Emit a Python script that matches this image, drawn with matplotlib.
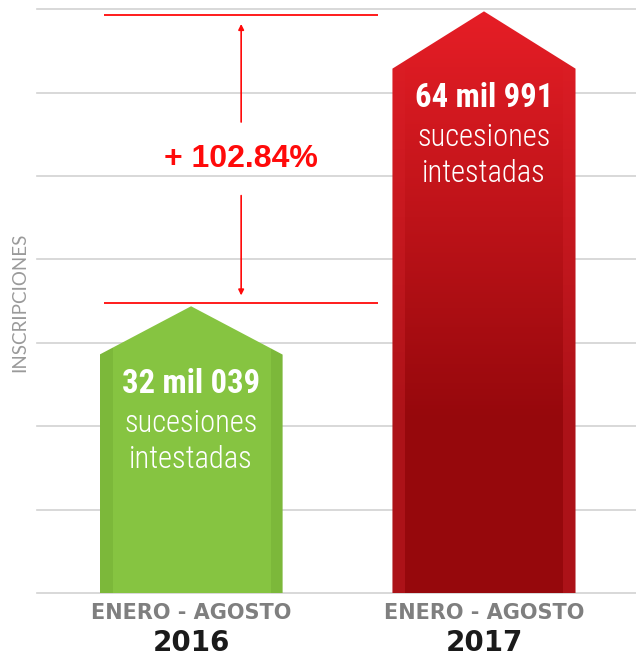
import numpy as np
import matplotlib
matplotlib.use("Agg")
import matplotlib.pyplot as plt
from matplotlib.patches import Polygon

# data
periods = ["ENERO - AGOSTO", "ENERO - AGOSTO"]
years = ["2016", "2017"]
values = [32039, 64991]
subtitle = ["sucesiones", "intestadas"]
ylabel = "INSCRIPCIONES"

GRID_STEP = 9320
N_GRID = 7
YMAX = 66260
HEADS = [5400, 6400]   # height of the arrow tip per bar, data units
BAR_W = 0.625
EDGE_W = 0.043         # side strip width, data units

COND = ['Roboto Condensed', 'Liberation Sans Narrow', 'DejaVu Sans']

def fmt(v):
    return "%d mil %03d" % (v // 1000, v % 1000)

def pct(a, b):
    p = np.floor((b - a) / a * 10000) / 100
    return "+ %.2f%%" % p

fig = plt.figure(figsize=(6.36, 6.57), dpi=100)
ax = fig.add_axes([37/636, 64/657, 599/636, 593/657])
ax.set_xlim(-0.526, 1.519)
ax.set_ylim(0, YMAX)
ax.axis('off')

for k in range(N_GRID + 1):
    ax.axhline(k * GRID_STEP, color='#d2d2d2', lw=1.2, zorder=1, clip_on=False)


def bar_image(ax, x, v, head, top_inner, bot_inner, top_edge, bot_edge, dark_at):
    x0, x1 = x - BAR_W/2, x + BAR_W/2
    ny, nx = 300, 300
    ys = np.linspace(v, 0, ny)
    t = np.clip((v - ys) / (v - dark_at), 0, 1)[:, None]
    xs = np.linspace(x0, x1, nx)
    edge = ((xs < x0 + EDGE_W) | (xs > x1 - EDGE_W))[None, :]
    ti, bi = np.array(top_inner)/255, np.array(bot_inner)/255
    te, be = np.array(top_edge)/255, np.array(bot_edge)/255
    inner = ti + (bi - ti) * t[..., None]
    edg = te + (be - te) * t[..., None]
    img = np.where(edge[..., None], edg, inner)
    poly = Polygon([(x0, 0), (x0, v - head), (x, v), (x1, v - head), (x1, 0)],
                   closed=True, facecolor='none', edgecolor='none')
    ax.add_patch(poly)
    im = ax.imshow(img, extent=[x0, x1, 0, v], aspect='auto', zorder=3,
                   interpolation='nearest')
    im.set_clip_path(poly)


bar_image(ax, 0, values[0], HEADS[0], (134, 196, 65), (134, 196, 65),
          (124, 184, 58), (124, 184, 58), values[0] * 0.5)
bar_image(ax, 1, values[1], HEADS[1], (230, 30, 38), (150, 8, 12),
          (226, 30, 38), (172, 18, 24), 19300)

# texts inside the bars
for i, v in enumerate(values):
    sh = v - HEADS[i]
    ax.annotate(fmt(v), (i, sh), xytext=(0, -29), textcoords='offset pixels',
                ha='center', va='center', color='white', fontsize=23.5,
                fontweight='bold', family=COND, zorder=5)
    ax.annotate(subtitle[0], (i, sh), xytext=(0, -69), textcoords='offset pixels',
                ha='center', va='center', color='white', fontsize=22,
                fontweight='light', family=COND, zorder=5)
    ax.annotate(subtitle[1], (i, sh), xytext=(0, -105), textcoords='offset pixels',
                ha='center', va='center', color='white', fontsize=22,
                fontweight='light', family=COND, zorder=5)

# bracket showing the growth
red = '#ff0a0a'
pad = 400
ax.hlines([values[1] - pad, values[0] + pad], -0.297, 0.638, color=red,
          lw=1.3, zorder=4)
xa = 0.171
mid = (values[0] + values[1]) / 2
gap = 3800
ax.annotate('', xy=(xa, values[1] - 1100), xytext=(xa, mid + gap),
            arrowprops=dict(arrowstyle='-|>', color=red, lw=1.2, mutation_scale=8))
ax.annotate('', xy=(xa, values[0] + 900), xytext=(xa, mid - gap),
            arrowprops=dict(arrowstyle='-|>', color=red, lw=1.2, mutation_scale=8))
ax.text(xa, mid, pct(values[0], values[1]), ha='center', va='center',
        color=red, fontsize=23, fontweight='bold', family='Liberation Sans')

# category labels
for i in range(len(values)):
    ax.text(i, -0.0337, periods[i], transform=ax.get_xaxis_transform(),
            ha='center', va='center', color='#7f7f7f', fontsize=15,
            fontweight='bold', family='DejaVu Sans')
    ax.text(i, -0.0843, years[i], transform=ax.get_xaxis_transform(),
            ha='center', va='center', color='#1a1a1a', fontsize=20,
            fontweight='bold', family='DejaVu Sans')

fig.text(20/636, 1 - 302/657, ylabel, rotation=90, ha='center', va='center',
         color='#9a9a9a', fontsize=13.5, family='Lato')

fig.savefig('out.png', dpi=100)
